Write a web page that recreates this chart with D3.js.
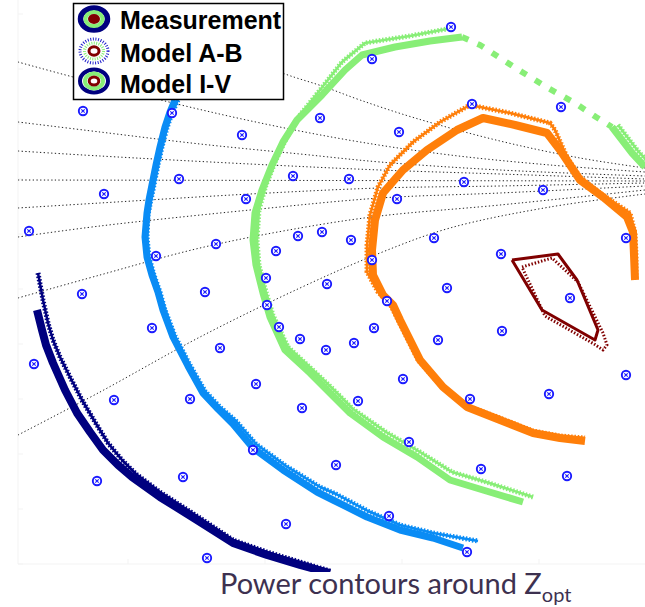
<!DOCTYPE html>
<html>
<head>
<meta charset="utf-8">
<script src="https://cdn.jsdelivr.net/npm/d3@7"></script>
<style>
  body { margin: 0; background: #fff; }
  svg { display: block; }
</style>
</head>
<body>
<svg></svg>
<script>
const width = 645;
const height = 607;

// -----------------------------
// DATA (chart units)
// -----------------------------

// constant-reactance arcs of the Smith chart
const arcB    = [[150,18],[220,48],[285,74],[322,86],[360,100],[415,118],[500,141],[580,158],[645,168]];
const arcA    = [[18,62],[73,77],[177,104],[270,125],[360,142],[450,155],[550,165],[645,172]];
const arc122  = [[18,122],[100,132],[200,144],[300,154],[380,162],[500,170],[645,176]];
const arc151  = [[18,151],[100,156],[250,164],[380,170],[500,174],[645,179]];
const arc180  = [[18,180],[330,180.5],[645,181]];
const arc208  = [[18,208],[100,203],[250,194],[380,188],[500,186],[645,183]];
const arc237  = [[18,237],[100,226],[250,210],[380,198],[500,193],[645,186]];
const arc298  = [[18,298],[100,275],[200,248],[300,228],[380,216],[500,205],[645,190]];
const arc435  = [[18,435],[100,392],[200,337],[300,288],[380,253],[450,228],[550,207],[645,194]];

// measured load-pull points
const measuredPoints = [
  [451,27],[372,59],[83,111],[172,113],[320,118],[472,104],[561,107],[242,135],[399,132],
  [104,194],[179,179],[246,199],[293,176],[349,179],[464,182],[397,199],[543,190],
  [29,231],[216,244],[156,256],[298,236],[322,232],[351,240],[276,251],[372,260],[434,238],[501,254],[626,238],
  [82,294],[205,292],[266,278],[327,284],[447,288],[570,298],[387,301],
  [267,305],[279,327],[300,339],[326,350],[152,328],[220,348],[374,328],[354,343],[438,340],[502,331],
  [34,364],[114,400],[190,399],[256,384],[302,408],[358,401],[403,379],[470,399],[549,394],[626,375],
  [253,450],[97,481],[183,477],[336,465],[409,442],[481,469],[567,476],
  [286,524],[389,516],[207,558],[467,552]
];

// contour level 1 (lowest power)
const navyMeas  = [[37,310],[42,330],[46,345],[53,363],[65,390],[77,413],[90,432],[103,450],[118,465],[132,477],[160,497],[197,520],[233,543],[267,555],[300,565],[330,573]];
const navyModel = [[38,273],[43,300],[48,323],[53,340],[60,357],[70,377],[82,400],[95,422],[108,443],[122,460],[136,474],[160,492],[197,516],[233,540],[267,552],[330,571]];

// contour level 2
const blueMeas  = [[175,100],[170,112],[165,127],[160,147],[156,165],[153,180],[149,200],[147,213],[145,237],[147,257],[152,275],[158,292],[163,310],[173,337],[188,366],[203,393],[218,409],[233,424],[253,448],[283,470],[317,492],[333,500],[367,517],[400,530],[433,538],[463,548]];
const blueModel = [[178,100],[172,113],[167,128],[162,147],[158,165],[155,180],[151,200],[148,215],[147,237],[149,257],[154,275],[160,292],[165,310],[175,336],[190,365],[205,391],[220,407],[236,421],[256,444],[286,466],[320,487],[336,494],[368,511],[400,525],[433,533],[478,541]];

// contour level 3
const greenMeas  = [[462,37],[430,41],[395,47],[362,55],[345,70],[322,95],[297,120],[283,142],[272,165],[262,190],[255,213],[253,240],[256,265],[263,293],[270,317],[285,350],[310,373],[330,393],[350,413],[383,437],[417,457],[450,480],[483,490],[523,502]];
const greenModel = [[452,28],[410,36],[365,43],[342,62],[320,90],[300,115],[287,137],[276,160],[266,185],[259,210],[257,240],[259,265],[266,292],[273,315],[288,347],[313,370],[333,389],[353,409],[386,432],[420,452],[452,472],[486,482],[533,497]];
const greenGap   = [[462,37],[480,45],[500,58],[522,72],[548,88],[575,103],[596,117],[612,127]];
const greenEdgeMeas  = [[612,127],[622,140],[632,153],[645,167]];
const greenEdgeModel = [[618,125],[628,138],[638,151],[648,162]];

// contour level 4
const orangeMeas  = [[635,280],[634,255],[633,232],[627,217],[603,197],[580,180],[560,150],[547,133],[515,125],[483,118],[457,130],[427,150],[403,170],[383,193],[375,220],[372,250],[373,275],[383,295],[393,305],[400,320],[410,340],[420,360],[443,387],[467,407],[500,420],[533,433],[560,438],[585,441]];
const orangeModel = [[636,278],[636,255],[635,233],[630,213],[600,193],[580,177],[567,157],[555,130],[550,123],[510,113],[470,105],[440,122],[413,142],[390,165],[378,187],[370,215],[367,245],[367,272],[378,292],[390,304],[398,320],[408,340],[418,360],[441,386],[465,405],[500,418],[533,431],[560,436],[585,438]];

// contour level 5 (highest power)
const redMeas  = [[512,260],[558,254],[577,280],[598,330],[595,340],[542,310],[512,260]];
const redModel = [[522,267],[552,258],[578,282],[603,333],[607,345],[603,350],[594,344],[545,316],[522,267]];

const legendLabels = ["Measurement", "Model A-B", "Model I-V"];
const captionText = "Power contours around Z";
const captionSub = "opt";

// -----------------------------
// SCALES
// -----------------------------
const x = d3.scaleLinear().domain([0, 645]).range([0, width]);
const y = d3.scaleLinear().domain([0, 607]).range([0, height]);

const line = d3.line().x(d => x(d[0])).y(d => y(d[1]));
const smooth = d3.line().x(d => x(d[0])).y(d => y(d[1])).curve(d3.curveCatmullRom);

const svg = d3.select("svg")
  .attr("width", width)
  .attr("height", height);

const defs = svg.append("defs");
defs.append("clipPath").attr("id", "plot")
  .append("rect")
  .attr("x", x(18)).attr("y", 0)
  .attr("width", x(645) - x(18)).attr("height", y(572));

// -----------------------------
// FAINT AXES
// -----------------------------
const axes = svg.append("g").attr("stroke", "#f3f3f3").attr("stroke-width", 1);
axes.append("line").attr("x1", x(18)).attr("x2", x(18)).attr("y1", 0).attr("y2", y(564));
axes.append("line").attr("x1", x(18)).attr("x2", x(645)).attr("y1", y(564)).attr("y2", y(564));
axes.selectAll(".ty").data(d3.range(564, 0, -55)).join("line")
  .attr("x1", x(18)).attr("x2", x(23)).attr("y1", d => y(d)).attr("y2", d => y(d));
axes.selectAll(".tx").data(d3.range(128, 645, 137)).join("line")
  .attr("x1", d => x(d)).attr("x2", d => x(d)).attr("y1", y(564)).attr("y2", y(559));

const plot = svg.append("g").attr("clip-path", "url(#plot)");

// -----------------------------
// REACTANCE ARCS
// -----------------------------
plot.append("g")
  .selectAll("path")
  .data([arcB, arcA, arc122, arc151, arc180, arc208, arc237, arc298, arc435])
  .join("path")
  .attr("d", smooth)
  .attr("fill", "none")
  .attr("stroke", "#222")
  .attr("stroke-width", 1)
  .attr("stroke-dasharray", "1.3 2.4");

// -----------------------------
// CONTOURS
// -----------------------------
const contours = [
  { color: "#00007f", meas: navyMeas,   model: navyModel,   w: 8 },
  { color: "#0a8cf5", meas: blueMeas,   model: blueModel,   w: 7 },
  { color: "#88ee77", meas: greenMeas,  model: greenModel,  w: 7 },
  { color: "#88ee77", meas: greenEdgeMeas, model: greenEdgeModel, w: 7 },
  { color: "#ff7f0a", meas: orangeMeas, model: orangeModel, w: 8 },
  { color: "#800000", meas: redMeas,    model: redModel,    w: 3 }
];

const cg = plot.append("g").attr("fill", "none").attr("stroke-linejoin", "round");

contours.forEach(c => {
  cg.append("path").attr("d", line(c.meas))
    .attr("stroke", c.color).attr("stroke-width", c.w);
  // Model A-B (dotted)
  cg.append("path").attr("d", line(c.model))
    .attr("stroke", c.color).attr("stroke-width", c.w > 4 ? 5 : 3)
    .attr("stroke-dasharray", "1.5 1.8");
  // Model I-V (thin solid)
  if (c.w > 4) {
    cg.append("path").attr("d", line(c.model))
      .attr("stroke", c.color).attr("stroke-width", 2.5);
  }
});

cg.append("path").attr("d", line(greenGap))
  .attr("stroke", "#88ee77").attr("stroke-width", 6)
  .attr("stroke-dasharray", "7 10");

// -----------------------------
// MEASURED POINTS
// -----------------------------
const pts = svg.append("g")
  .selectAll("g")
  .data(measuredPoints)
  .join("g")
  .attr("transform", d => `translate(${x(d[0])},${y(d[1])})`);

pts.append("circle")
  .attr("r", 4.2)
  .attr("fill", "#fff")
  .attr("stroke", "#1a1aff")
  .attr("stroke-width", 1.9);
pts.append("path")
  .attr("d", "M-1.7,-1.7L1.7,1.7M-1.7,1.7L1.7,-1.7")
  .attr("stroke", "#1a1aff")
  .attr("stroke-width", 1.1);

// -----------------------------
// LEGEND
// -----------------------------
const legend = svg.append("g");
legend.append("rect")
  .attr("x", 73.5).attr("y", 3.5).attr("width", 210).attr("height", 96)
  .attr("fill", "#fff").attr("stroke", "#000").attr("stroke-width", 1.5);

const rowY = [19, 51, 81];
const iconX = 94;

// Measurement icon
let g0 = legend.append("g").attr("transform", `translate(${iconX},${rowY[0]})`);
g0.append("ellipse").attr("rx", 13.5).attr("ry", 11).attr("fill", "none").attr("stroke", "#00007f").attr("stroke-width", 5.5);
g0.append("ellipse").attr("rx", 8.5).attr("ry", 7).attr("fill", "none").attr("stroke", "#88ee77").attr("stroke-width", 4);
g0.append("ellipse").attr("rx", 6).attr("ry", 5).attr("fill", "#800000");

// Model A-B icon
let g1 = legend.append("g").attr("transform", `translate(${iconX},${rowY[1]})`);
g1.append("ellipse").attr("rx", 14).attr("ry", 12).attr("fill", "none").attr("stroke", "#2222cc").attr("stroke-width", 3).attr("stroke-dasharray", "1 1.6");
g1.append("ellipse").attr("rx", 9.5).attr("ry", 8).attr("fill", "none").attr("stroke", "#88ee77").attr("stroke-width", 3).attr("stroke-dasharray", "1 1.4");
g1.append("ellipse").attr("rx", 5).attr("ry", 4.2).attr("fill", "#fff").attr("stroke", "#800000").attr("stroke-width", 3);

// Model I-V icon
let g2 = legend.append("g").attr("transform", `translate(${iconX},${rowY[2]})`);
g2.append("ellipse").attr("rx", 14).attr("ry", 11.5).attr("fill", "none").attr("stroke", "#00007f").attr("stroke-width", 4);
g2.append("ellipse").attr("rx", 9).attr("ry", 7.5).attr("fill", "none").attr("stroke", "#88ee77").attr("stroke-width", 4);
g2.append("ellipse").attr("rx", 4.8).attr("ry", 4).attr("fill", "#fff").attr("stroke", "#800000").attr("stroke-width", 3);

legend.selectAll("text")
  .data(legendLabels)
  .join("text")
  .attr("x", 120)
  .attr("y", (d, i) => [29, 62, 93][i])
  .attr("font-family", "'Liberation Sans', Arial, sans-serif")
  .attr("font-weight", "bold")
  .attr("font-size", 25)
  .attr("fill", "#000")
  .text(d => d);

// -----------------------------
// CAPTION
// -----------------------------
const cap = svg.append("text")
  .attr("x", 220)
  .attr("y", 594)
  .attr("font-family", "Lato, 'Open Sans', sans-serif")
  .attr("font-size", 29)
  .attr("fill", "#3d3150");
cap.append("tspan").text(captionText);
cap.append("tspan").attr("font-size", 20).attr("dy", 8).text(captionSub);
</script>
</body>
</html>
